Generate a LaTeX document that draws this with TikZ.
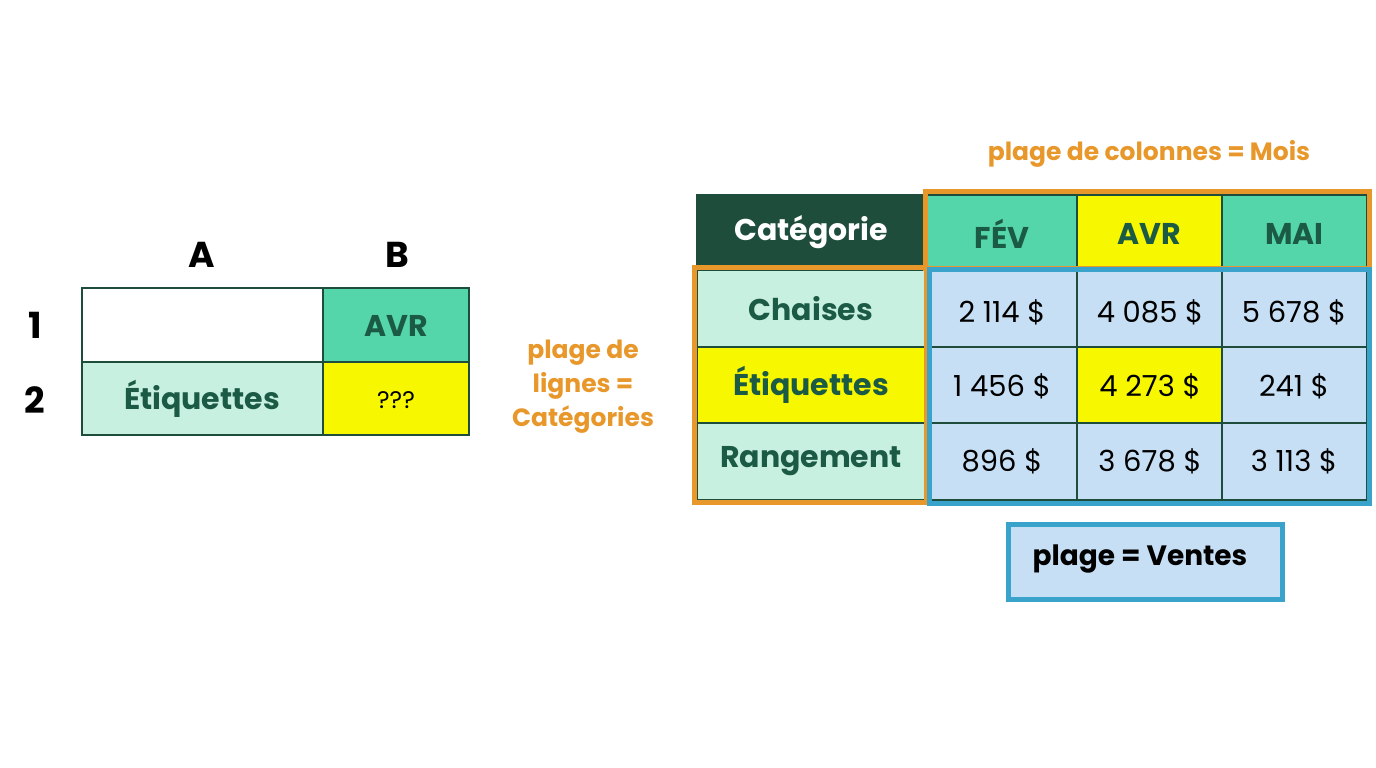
\documentclass[tikz,border=0pt]{standalone}
\usepackage{fontspec}
\setmainfont{Poppins}
\begin{document}
\definecolor{dk}{HTML}{1E4D3B}
\definecolor{tx}{HTML}{1B5A44}
\definecolor{teal}{HTML}{55D6AA}
\definecolor{mint}{HTML}{C8F0E0}
\definecolor{lb}{HTML}{C7DFF5}
\definecolor{bb}{HTML}{3AA3CC}
\definecolor{org}{HTML}{E8972A}
\definecolor{yel}{HTML}{F7F700}
\begin{tikzpicture}[x=1pt,y=-1pt,
 cell/.style={draw=dk,line width=2pt},
 lab/.style={font=\fontsize{30}{32}\selectfont\bfseries,text=tx},
 num/.style={font=\fontsize{29}{32}\selectfont,text=black},
 big/.style={font=\fontsize{36}{38}\selectfont\bfseries,text=black},
 otx/.style={font=\fontsize{25}{34}\selectfont\bfseries,text=org,align=center}]
\useasboundingbox (0,0) rectangle (1376,768);
% left table
\filldraw[cell,fill=white] (82,288) rectangle (323,362);
\filldraw[cell,fill=teal] (323,288) rectangle (469,362);
\filldraw[cell,fill=mint] (82,362) rectangle (323,435);
\filldraw[cell,fill=yel] (323,362) rectangle (469,435);
\node[lab] (lb1) at (396,326) {AVR};
\node[lab] (la2) at (202,399) {Étiquettes};
\node[num,font=\fontsize{24}{26}\selectfont] (lb2) at (396,400) {???};
\node[big] (cA) at (202,255) {A};
\node[big] (cB) at (397,255) {B};
\node[big] (r1) at (35,325) {1};
\node[big] (r2) at (35,400) {2};
\node[otx] (pl) at (583,387) {plage de\\lignes =\\Catégories};
% right table
\filldraw[cell,fill=dk] (697,195) rectangle (925,268);
\node[lab,text=white] (hc) at (811,232) {Catégorie};
\foreach \x/\w/\c/\t in {927/1077/teal/FÉV,1077/1222/yel/AVR,1222/1367/teal/MAI}{
  \filldraw[cell,fill=\c] (\x,195) rectangle (\w,268);
  \node[lab] at ({(\x+\w)/2},234) {\t};}
\foreach \y/\z/\c/\t in {270/347/mint/Chaises,347/423/yel/Étiquettes,423/500/mint/Rangement}{
  \filldraw[cell,fill=\c] (697,\y) rectangle (925,\z);
  \node[lab] at (811,{(\y+\z)/2}) {\t};}
\foreach \x/\w in {927/1077,1077/1222,1222/1367}
 \foreach \y/\z in {270/347,347/423,423/500}
  \filldraw[cell,fill=lb] (\x,\y) rectangle (\w,\z);
\filldraw[cell,fill=yel] (1077,347) rectangle (1222,423);
\node[num] at (1002,312) {2 114 \$};
\node[num] at (1150,312) {4 085 \$};
\node[num] at (1294,312) {5 678 \$};
\node[num] at (1002,386) {1 456 \$};
\node[num] at (1150,386) {4 273 \$};
\node[num] at (1294,386) {241 \$};
\node[num] at (1002,461) {896 \$};
\node[num] at (1150,461) {3 678 \$};
\node[num] at (1294,461) {3 113 \$};
% range outlines
\draw[org,line width=5pt] (925,191) rectangle (1369,268);
\draw[org,line width=5pt] (694,267) rectangle (926,502);
\draw[bb,line width=5pt] (929,269) rectangle (1369,503);
\node[otx] (pc) at (1149,154) {plage de colonnes = Mois};
\filldraw[fill=lb,draw=bb,line width=5pt] (1008,524) rectangle (1282,599);
\node[font=\fontsize{28}{30}\selectfont\bfseries] (pv) at (1140,559) {plage = Ventes};
\end{tikzpicture}
\end{document}
